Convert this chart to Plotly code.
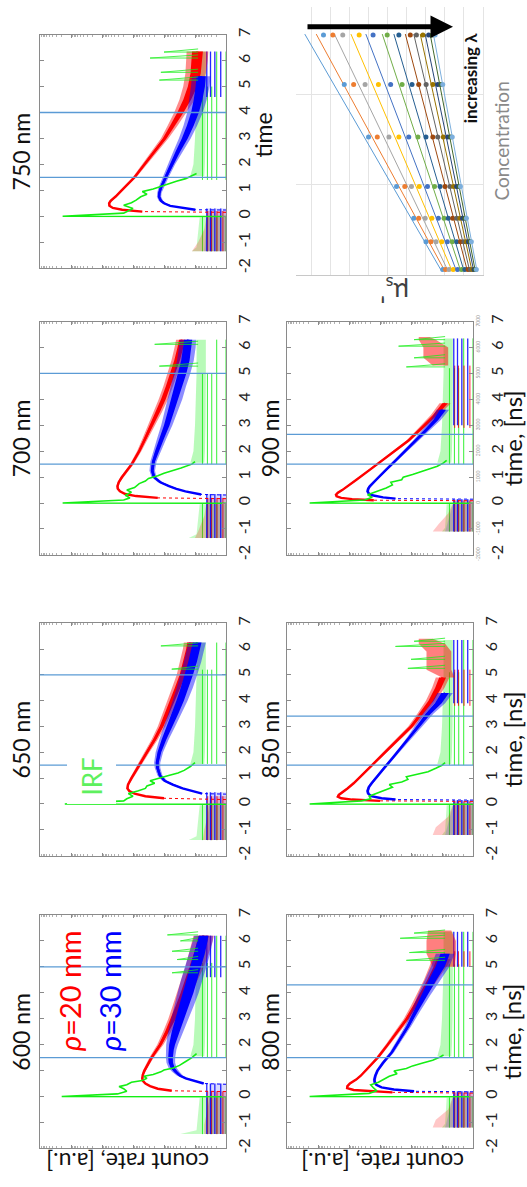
import plotly.graph_objects as go

W, H = 527, 1187
FONT = "Lato, 'Open Sans', sans-serif"

# ---------------- data: time-resolved curves (t in ns, L = log10 count) ----------------
PANELS = ["600 nm", "650 nm", "700 nm", "750 nm", "800 nm", "850 nm", "900 nm"]
TIME_TICKS = [-2, -1, 0, 1, 2, 3, 4, 5, 6, 7]
GATES = [[1.5, 5.0], [1.5, 5.0], [1.5, 5.0], [1.5, 4.0], [1.5, 4.3], [1.5, 3.4], [1.5, 2.65]]

RED_RISE = [0.19, 0.17, 0.17, 0.15, 0.13, 0.1, 0.09]
RED_T = [
    [0.22, 0.3, 0.4, 0.5, 0.6, 0.7, 0.85, 1.0, 1.5, 2.0, 2.5, 3.0, 3.5, 4.0, 4.5, 5.0, 5.5, 6.0, 6.2],
    [0.22, 0.3, 0.4, 0.5, 0.6, 0.75, 1.0, 1.5, 2.0, 2.5, 3.0, 3.5, 4.0, 4.5, 5.0, 5.5, 6.0, 6.25],
    [0.2, 0.27, 0.35, 0.45, 0.55, 0.65, 0.8, 1.0, 1.5, 2.0, 2.5, 3.0, 3.5, 4.0, 4.5, 5.0, 5.5, 6.0, 6.3],
    [0.18, 0.25, 0.32, 0.4, 0.5, 0.6, 0.76, 1.0, 1.5, 2.0, 2.5, 3.0, 3.5, 4.0, 4.5, 5.0, 5.5, 6.0, 6.35],
    [0.16, 0.2, 0.25, 0.32, 0.4, 0.5, 0.65, 0.8, 1.0, 1.5, 2.0, 2.5, 3.0, 3.5, 4.0, 4.5, 5.0, 5.3],
    [0.12, 0.17, 0.22, 0.28, 0.35, 0.45, 0.6, 0.8, 1.0, 1.5, 2.0, 2.5, 3.0, 3.5, 4.0, 4.5, 4.9],
    [0.11, 0.15, 0.2, 0.26, 0.32, 0.4, 0.5, 0.7, 0.9, 1.3, 1.7, 2.0, 2.4, 2.9, 3.4, 3.85],
]
RED_C = [
    [1.75, 2.2, 2.45, 2.6, 2.68, 2.7, 2.68, 2.63, 2.4, 2.12, 1.9, 1.7, 1.52, 1.34, 1.18, 1.01, 0.88, 0.76, 0.72],
    [2.0, 2.6, 2.95, 3.12, 3.18, 3.16, 3.05, 2.8, 2.55, 2.3, 2.08, 1.9, 1.72, 1.56, 1.4, 1.28, 1.18, 1.15],
    [2.2, 2.9, 3.25, 3.42, 3.49, 3.5, 3.46, 3.36, 3.04, 2.8, 2.6, 2.4, 2.2, 2.02, 1.86, 1.72, 1.58, 1.47, 1.42],
    [2.7, 3.35, 3.65, 3.76, 3.77, 3.72, 3.56, 3.37, 2.95, 2.63, 2.3, 1.98, 1.72, 1.47, 1.25, 1.08, 0.98, 0.94, 0.92],
    [2.6, 3.2, 3.85, 4.06, 4.05, 3.97, 3.77, 3.62, 3.46, 3.07, 2.75, 2.44, 2.13, 1.87, 1.62, 1.36, 1.13, 1.02],
    [3.0, 3.9, 4.25, 4.36, 4.33, 4.2, 4.05, 3.85, 3.68, 3.26, 2.85, 2.42, 1.99, 1.66, 1.35, 1.12, 0.98],
    [3.2, 3.9, 4.25, 4.4, 4.42, 4.36, 4.22, 3.98, 3.76, 3.31, 2.87, 2.54, 2.09, 1.65, 1.22, 0.9],
]
RED_W = [
    [0.04, 0.04, 0.04, 0.04, 0.04, 0.04, 0.04, 0.05, 0.07, 0.1, 0.13, 0.16, 0.2, 0.24, 0.27, 0.3, 0.32, 0.33, 0.33],
    [0.04, 0.04, 0.04, 0.04, 0.04, 0.04, 0.05, 0.06, 0.08, 0.1, 0.12, 0.14, 0.16, 0.18, 0.19, 0.2, 0.21, 0.21],
    [0.04, 0.04, 0.04, 0.04, 0.04, 0.04, 0.04, 0.05, 0.06, 0.07, 0.09, 0.11, 0.13, 0.15, 0.16, 0.17, 0.18, 0.19, 0.19],
    [0.04, 0.04, 0.04, 0.04, 0.04, 0.04, 0.04, 0.05, 0.06, 0.07, 0.09, 0.12, 0.16, 0.2, 0.25, 0.3, 0.33, 0.35, 0.35],
    [0.04, 0.04, 0.04, 0.04, 0.04, 0.04, 0.04, 0.04, 0.05, 0.06, 0.07, 0.08, 0.1, 0.13, 0.17, 0.22, 0.28, 0.3],
    [0.04, 0.04, 0.04, 0.04, 0.04, 0.04, 0.04, 0.04, 0.04, 0.05, 0.06, 0.08, 0.1, 0.13, 0.17, 0.2, 0.22],
    [0.04, 0.04, 0.04, 0.04, 0.04, 0.04, 0.04, 0.04, 0.04, 0.05, 0.05, 0.06, 0.07, 0.1, 0.14, 0.18],
]

BLUE_RISE = [0.47, 0.38, 0.31, 0.24, 0.18, 0.15, 0.15]
BLUE_T = [
    [0.5, 0.6, 0.7, 0.8, 0.95, 1.1, 1.3, 1.5, 1.8, 2.0, 2.5, 3.0, 3.5, 4.0, 4.5, 5.0, 5.5, 6.0, 6.2],
    [0.4, 0.5, 0.6, 0.75, 0.9, 1.1, 1.4, 1.6, 2.0, 2.5, 3.0, 3.5, 4.0, 4.5, 5.0, 5.5, 6.0, 6.25],
    [0.33, 0.45, 0.55, 0.65, 0.8, 1.0, 1.25, 1.6, 2.0, 2.5, 3.0, 3.5, 4.0, 4.5, 5.0, 5.5, 6.0, 6.3],
    [0.25, 0.32, 0.4, 0.5, 0.6, 0.75, 0.9, 1.1, 1.5, 2.0, 2.5, 3.0, 3.5, 4.0, 4.5, 5.0, 5.4],
    [0.2, 0.27, 0.35, 0.45, 0.55, 0.65, 0.8, 1.0, 1.3, 1.7, 2.2, 2.7, 3.3, 3.9, 4.5, 5.0, 5.5],
    [0.17, 0.22, 0.3, 0.4, 0.5, 0.65, 0.8, 1.0, 1.4, 1.8, 2.2, 2.6, 3.0, 3.5, 3.9, 4.3],
    [0.17, 0.22, 0.3, 0.38, 0.45, 0.55, 0.65, 0.9, 1.3, 1.65, 2.05, 2.4, 2.8, 3.2, 3.6],
]
BLUE_C = [
    [0.72, 1.05, 1.3, 1.48, 1.62, 1.72, 1.78, 1.79, 1.77, 1.74, 1.63, 1.49, 1.36, 1.22, 1.1, 0.98, 0.86, 0.76, 0.72],
    [0.77, 1.1, 1.4, 1.72, 1.98, 2.13, 2.21, 2.22, 2.15, 2.0, 1.82, 1.64, 1.48, 1.33, 1.2, 1.08, 0.98, 0.93],
    [0.8, 1.31, 1.6, 1.84, 2.12, 2.32, 2.38, 2.34, 2.23, 2.07, 1.91, 1.78, 1.65, 1.54, 1.41, 1.31, 1.25, 1.22],
    [0.99, 1.45, 1.8, 2.0, 2.1, 2.16, 2.15, 2.1, 1.95, 1.76, 1.55, 1.33, 1.15, 1.0, 0.9, 0.83, 0.8],
    [1.9, 2.55, 2.95, 3.12, 3.17, 3.18, 3.15, 3.08, 2.9, 2.62, 2.36, 2.1, 1.84, 1.58, 1.3, 1.06, 0.9],
    [2.5, 2.95, 3.28, 3.38, 3.4, 3.36, 3.27, 3.14, 2.86, 2.58, 2.3, 2.02, 1.77, 1.44, 1.12, 0.9],
    [2.5, 2.9, 3.25, 3.37, 3.4, 3.38, 3.33, 3.13, 2.79, 2.49, 2.16, 1.85, 1.52, 1.2, 0.97],
]
BLUE_W = [
    [0.05, 0.07, 0.08, 0.1, 0.12, 0.13, 0.14, 0.15, 0.17, 0.19, 0.24, 0.28, 0.32, 0.34, 0.35, 0.35, 0.35, 0.33, 0.3],
    [0.05, 0.06, 0.07, 0.08, 0.08, 0.08, 0.09, 0.1, 0.12, 0.15, 0.18, 0.21, 0.24, 0.26, 0.27, 0.28, 0.28, 0.28],
    [0.05, 0.06, 0.07, 0.07, 0.08, 0.08, 0.09, 0.1, 0.12, 0.15, 0.18, 0.21, 0.24, 0.25, 0.26, 0.27, 0.27, 0.26],
    [0.05, 0.06, 0.06, 0.07, 0.07, 0.07, 0.07, 0.08, 0.1, 0.12, 0.15, 0.19, 0.22, 0.25, 0.28, 0.3, 0.3],
    [0.05, 0.05, 0.05, 0.05, 0.05, 0.05, 0.05, 0.05, 0.06, 0.07, 0.08, 0.1, 0.14, 0.2, 0.25, 0.3, 0.3],
    [0.05, 0.05, 0.05, 0.05, 0.05, 0.05, 0.05, 0.05, 0.05, 0.06, 0.07, 0.09, 0.12, 0.17, 0.22, 0.25],
    [0.05, 0.05, 0.05, 0.05, 0.05, 0.05, 0.05, 0.05, 0.05, 0.06, 0.07, 0.09, 0.12, 0.16, 0.2],
]

# IRF (green)
GREEN_T = [
    [-0.01, 0.0, 0.1, 0.2, 0.3, 0.38, 0.45, 0.55, 0.62, 0.7, 0.78, 0.85, 0.95, 1.02, 1.1, 1.2, 1.35, 1.5, 1.65],
    [-0.01, 0.0, 0.12, 0.2, 0.3, 0.4, 0.5, 0.6, 0.7, 0.8, 0.9, 1.0, 1.1, 1.2, 1.3, 1.45, 1.6],
    [-0.01, 0.0, 0.12, 0.2, 0.3, 0.42, 0.5, 0.6, 0.75, 0.85, 0.95, 1.05, 1.15, 1.25, 1.35, 1.5, 1.6],
    [-0.01, 0.0, 0.12, 0.2, 0.3, 0.42, 0.52, 0.62, 0.75, 0.85, 0.95, 1.05, 1.15, 1.25, 1.35, 1.45, 1.55, 1.65],
    [-0.01, 0.0, 0.12, 0.22, 0.32, 0.45, 0.55, 0.68, 0.78, 0.88, 0.98, 1.08, 1.18, 1.28, 1.4, 1.5, 1.6],
    [-0.01, 0.0, 0.12, 0.2, 0.3, 0.42, 0.55, 0.65, 0.75, 0.85, 0.95, 1.05, 1.15, 1.25, 1.38, 1.5, 1.6],
    [-0.01, 0.0, 0.12, 0.22, 0.32, 0.45, 0.58, 0.7, 0.8, 0.9, 1.0, 1.1, 1.2, 1.3, 1.42, 1.55, 1.65],
]
GREEN_L = [
    [0.0, 5.3, 3.5, 3.2, 3.3, 3.45, 3.2, 3.05, 2.7, 2.55, 2.65, 2.35, 2.1, 2.0, 1.7, 1.5, 1.3, 1.1, 0.95],
    [0.0, 5.2, 3.3, 3.2, 3.0, 3.15, 2.85, 2.6, 2.55, 2.3, 2.45, 2.1, 1.85, 1.55, 1.35, 1.15, 1.0],
    [0.0, 5.27, 3.3, 3.1, 3.25, 3.05, 3.2, 2.95, 2.8, 2.6, 2.5, 2.2, 2.0, 1.7, 1.45, 1.1, 1.0],
    [0.0, 5.27, 3.3, 3.15, 3.0, 3.3, 3.05, 2.9, 2.75, 2.55, 2.7, 2.35, 2.1, 1.9, 1.6, 1.3, 1.1, 0.95],
    [0.0, 5.27, 3.35, 3.1, 3.2, 3.3, 3.05, 2.85, 2.7, 2.45, 2.55, 2.15, 1.95, 1.65, 1.3, 1.1, 0.95],
    [0.0, 5.27, 3.6, 3.3, 3.35, 3.1, 2.8, 2.6, 2.7, 2.3, 2.1, 2.15, 1.8, 1.45, 1.2, 1.0, 0.9],
    [0.0, 5.27, 3.5, 3.25, 3.4, 3.1, 2.8, 2.6, 2.65, 2.3, 2.25, 1.95, 1.7, 1.45, 1.15, 0.95, 0.85],
]
SPIKE_T = [
    [6.23, 6.0, 5.6, 5.28, 4.77],
    [6.12, 5.22],
    [6.12, 5.28],
    [6.33, 6.1, 5.55, 5.25],
    [6.3, 6.1, 5.55, 5.25],
    [6.3, 6.1, 5.6, 5.25],
    [6.3, 6.05, 5.6, 5.25],
]
SPIKE_L = [
    [1.89, 1.47, 1.74, 1.58, 1.74],
    [2.1, 1.75],
    [2.3, 2.15],
    [2.0, 2.45, 2.1, 2.15],
    [1.9, 2.35, 2.05, 2.15],
    [1.9, 2.5, 2.0, 2.1],
    [1.9, 2.4, 1.9, 2.15],
]
GREEN_CLOUD_T = [1.55, 2.0, 3.0, 4.0, 5.0, 6.2]
GREEN_CLOUD_HI = [1.15, 1.05, 1.0, 0.98, 0.95, 0.95]
GREEN_CLOUD_LO = [0.7, 0.68, 0.66, 0.65, 0.65, 0.65]
GREEN_PRE_T = [[-1.45, -1.3, -0.05], [-1.4, -1.25, -0.05], [-1.35, -1.2, -0.05], [-1.35, -1.2, -0.05],
               [-1.2, -1.05, -0.05], [-1.2, -1.05, -0.05], [-1.1, -0.95, -0.05]]
GREEN_PRE_HI = [[1.47, 0.95, 0.85], [1.2, 0.95, 0.85], [1.2, 0.95, 0.85], [1.1, 0.95, 0.85],
                [1.0, 0.9, 0.85], [1.0, 0.9, 0.85], [1.0, 0.9, 0.85]]
RED_PRE_T = [[-1.45, -1.1, -0.5, 0.2], [-1.4, -1.0, -0.5, 0.3], [-1.35, -1.1, -0.5, 0.2], [-1.35, -1.0, -0.5, 0.2],
             [-1.2, -0.9, -0.5, 0.15], [-1.2, -0.9, -0.5, 0.1], [-1.1, -0.8, -0.4, 0.1]]
RED_PRE_HI = [[0.7, 0.7, 0.6, 0.5], [0.75, 0.7, 0.6, 0.5], [1.0, 0.9, 0.7, 0.6], [1.1, 0.9, 0.7, 0.6],
              [1.3, 1.2, 0.8, 0.6], [1.3, 1.2, 0.8, 0.6], [1.3, 1.1, 0.8, 0.6]]
BLUE_PRE_T = [[-1.45, 0.5], [-1.4, 0.45], [-1.35, 0.35], [-1.35, 0.3], [-1.2, 0.2], [-1.2, 0.15], [-1.1, 0.15]]
BLUE_PRE_HI = [[0.6, 0.55], [0.6, 0.55], [0.65, 0.6], [0.7, 0.6], [0.9, 0.6], [0.9, 0.6], [0.9, 0.6]]
RED_POST_T = [[], [], [], [], [5.0, 5.5, 6.0, 6.4], [4.9, 5.2, 5.9, 6.2, 6.4], [5.3, 5.6, 6.0, 6.3, 6.4]]
RED_POST_LO = [[], [], [], [], [0.6, 0.55, 0.55, 0.7], [0.6, 0.7, 0.7, 0.9, 1.3], [0.8, 0.8, 0.8, 1.2, 1.4]]
RED_POST_HI = [[], [], [], [], [1.3, 1.5, 1.5, 1.45], [1.0, 1.5, 1.5, 1.75, 1.75], [1.3, 1.6, 1.6, 1.75, 1.75]]

# discrete low-count levels (log10 count) and their time spans
GREEN_LEVELS = [0.0, 0.3, 0.46, 0.6, 0.76]
RED_LEVELS = [0.1, 0.29, 0.47, 0.59]
BLUE_LEVELS = [0.17, 0.36, 0.5, 0.62]
COMB_T0 = [-1.45, -1.4, -1.35, -1.35, -1.2, -1.2, -1.1]
RED_PRE_T1 = [0.2, 0.3, 0.2, 0.2, 0.15, 0.1, 0.1]
BLUE_PRE_T1 = [0.5, 0.45, 0.35, 0.3, 0.2, 0.15, 0.15]
GREEN_POST_T0 = [1.5, 1.55, 1.5, 1.4, 1.5, 1.5, 1.5]
GREEN_MID_T1 = [5.15, 5.2, 5.0, 5.0, 5.1, 5.1, 5.2]
END_T = [6.2, 6.25, 6.3, 6.35, 6.35, 6.35, 6.35]
BLUE_POST_T0 = [4.6, None, None, 4.6, 5.0, 3.9, 3.0]
RED_POST_T0 = [None, None, None, None, 5.0, 3.8, 2.9]
RED_POST_T1 = [None, None, None, None, 5.6, 5.2, 5.3]
CHANNEL_TICKS = [-2000, -1000, 0, 1000, 2000, 3000, 4000, 5000, 6000, 7000]

# ---------------- data: scattering vs concentration ----------------
CONC = [0.06, 0.37, 0.63, 0.98, 1.53, 2.11, 2.66]
MUS = [
    [2.11, 2.99, 3.63, 4.53, 6.0, 7.27, 8.36],
    [1.96, 2.73, 3.37, 4.10, 5.54, 6.78, 7.87],
    [1.78, 2.46, 3.03, 3.75, 4.93, 6.18, 7.35],
    [1.56, 2.16, 2.68, 3.34, 4.41, 5.48, 6.49],
    [1.33, 1.87, 2.34, 2.91, 3.89, 4.84, 5.76],
    [1.12, 1.61, 2.04, 2.54, 3.41, 4.24, 5.02],
    [0.95, 1.38, 1.82, 2.25, 2.99, 3.72, 4.41],
    [0.78, 1.18, 1.59, 1.99, 2.63, 3.37, 3.81],
    [0.66, 1.00, 1.38, 1.73, 2.37, 2.98, 3.49],
    [0.55, 0.87, 1.21, 1.54, 2.08, 2.63, 3.15],
    [0.47, 0.76, 1.07, 1.38, 1.85, 2.37, 2.85],
    [0.40, 0.67, 0.95, 1.26, 1.70, 2.21, 2.65],
    [0.35, 0.61, 0.87, 1.18, 1.61, 2.11, 2.51],
]
FIT_C = [0.04, 2.67]
FIT_LO = [2.16, 1.99, 1.82, 1.61, 1.38, 1.16, 0.99, 0.81, 0.69, 0.57, 0.48, 0.40, 0.31]
FIT_HI = [9.34, 8.74, 7.79, 6.92, 6.14, 5.28, 4.67, 4.07, 3.63, 3.29, 3.03, 2.77, 2.60]
SERIES_COLORS = ["#5B9BD5", "#ED7D31", "#A5A5A5", "#FFC000", "#4472C4", "#70AD47", "#255E91",
                 "#9E480E", "#636363", "#997300", "#264478", "#43682B", "#7CAFDD"]

# ---------------- layout geometry (pixels) ----------------
COLS = [(40, 226), (287, 473)]
ROWS = [(28, 264), (318, 554), (623, 858), (918, 1154)]
PANEL_POS = [(0, 3), (0, 2), (0, 1), (0, 0), (1, 3), (1, 2), (1, 1)]
CONC_BOX = (296, 0, 483, 271)

RED, BLUE, GREEN = "#ff0000", "#0000ff", "#14ee14"
GATE_COLOR = "#5b9bd5"
FRAME = "#8a8a8a"

fig = go.Figure()
layout = dict(width=W, height=H, margin=dict(l=0, r=0, t=0, b=0), paper_bgcolor="white",
              plot_bgcolor="white", showlegend=False, font=dict(family=FONT, color="#111"))
annotations, shapes = [], []


def names(n):
    if n == 1:
        return "x", "y", "xaxis", "yaxis"
    return f"x{n}", f"y{n}", f"xaxis{n}", f"yaxis{n}"


def add(n, ya=None, **kw):
    xa, y_, _, _ = names(n)
    fig.add_trace(go.Scatter(xaxis=xa, yaxis=ya or y_, hoverinfo="skip", showlegend=False, **kw))


def cnt(L):
    return 10 ** L


def poly(n, t, lo, hi, color, opacity):
    xs = [cnt(v) for v in hi] + [cnt(v) for v in lo[::-1]]
    ys = list(t) + list(t[::-1])
    add(n, x=xs, y=ys, mode="lines", fill="toself", fillcolor=color, line=dict(width=0), opacity=opacity)


def band(n, t, c, w, color):
    for k, op in ((1.0, 0.45), (0.5, 1.0)):
        lo = [ci - k * wi for ci, wi in zip(c, w)]
        hi = [ci + k * wi for ci, wi in zip(c, w)]
        poly(n, t, lo, hi, color, op)
    add(n, x=[cnt(v) for v in c], y=t, mode="lines", line=dict(color=color, width=2.4))


def comb(n, segs, color, width, opacity=0.85):
    xs, ys = [], []
    for L, t0, t1 in segs:
        xs += [cnt(L), cnt(L), None]
        ys += [t0, t1, None]
    add(n, x=xs, y=ys, mode="lines", line=dict(color=color, width=width), opacity=opacity)


def ann(text, x, y, size, color="#111", angle=-90, **kw):
    annotations.append(dict(text=text, x=x / W, y=1 - y / H, xref="paper", yref="paper", showarrow=False,
                            textangle=angle, font=dict(size=size, color=color, family=FONT),
                            xanchor="center", yanchor="middle", **kw))


for i, name in enumerate(PANELS):
    n = i + 1
    col, row = PANEL_POS[i]
    x0, x1 = COLS[col]
    y0, y1 = ROWS[row]
    xa, ya, xk, yk = names(n)
    layout[xk] = dict(domain=[x0 / W, x1 / W], anchor=ya, type="log", range=[6, 0], showticklabels=False,
                      ticks="inside", ticklen=3, tickcolor=FRAME, dtick=1, mirror="ticks", showline=True,
                      linecolor=FRAME, linewidth=1, showgrid=False, zeroline=False,
                      minor=dict(ticks="inside", ticklen=2, tickcolor="#b0b0b0", dtick="D1"))
    layout[yk] = dict(domain=[1 - y1 / H, 1 - y0 / H], anchor=xa, range=[-2, 7], tickvals=TIME_TICKS,
                      ticktext=[str(v) for v in TIME_TICKS], side="right", tickangle=-90,
                      tickfont=dict(size=16, color="#222"), ticks="inside", ticklen=4, tickcolor=FRAME,
                      mirror="ticks", showline=True, linecolor=FRAME, linewidth=1, showgrid=False,
                      zeroline=False, ticklabelstandoff=4)

    # low-count clouds and discrete count levels
    poly(n, GREEN_PRE_T[i], [0.0] * len(GREEN_PRE_T[i]), GREEN_PRE_HI[i], GREEN, 0.25)
    ct = GREEN_CLOUD_T[:-1] + [END_T[i]]
    poly(n, ct, GREEN_CLOUD_LO, GREEN_CLOUD_HI, GREEN, 0.3)
    gsegs = [(L, COMB_T0[i], -0.03) for L in GREEN_LEVELS]
    gsegs += [(L, GREEN_POST_T0[i], END_T[i] if L < 0.4 else GREEN_MID_T1[i]) for L in GREEN_LEVELS]
    comb(n, gsegs, GREEN, 1.0)
    poly(n, RED_PRE_T[i], [0.0] * len(RED_PRE_T[i]), RED_PRE_HI[i], RED, 0.22)
    rsegs = [(L, COMB_T0[i], RED_PRE_T1[i]) for L in RED_LEVELS]
    if RED_POST_T0[i] is not None:
        rsegs += [(L, RED_POST_T0[i], RED_POST_T1[i]) for L in RED_LEVELS]
    comb(n, rsegs, RED, 1.0)
    poly(n, BLUE_PRE_T[i], [0.0] * len(BLUE_PRE_T[i]), BLUE_PRE_HI[i], BLUE, 0.15)
    bsegs = [(L, COMB_T0[i], BLUE_PRE_T1[i]) for L in BLUE_LEVELS]
    if BLUE_POST_T0[i] is not None:
        bsegs += [(L, BLUE_POST_T0[i], END_T[i]) for L in BLUE_LEVELS]
    comb(n, bsegs, BLUE, 1.3)

    # main curves
    if RED_POST_T[i]:
        poly(n, RED_POST_T[i], RED_POST_LO[i], RED_POST_HI[i], RED, 0.5)
    band(n, RED_T[i], RED_C[i], RED_W[i], RED)
    add(n, x=[cnt(0.0), cnt(RED_C[i][0])], y=[RED_RISE[i], RED_T[i][0]], mode="lines",
        line=dict(color=RED, width=1, dash="dot"))
    band(n, BLUE_T[i], BLUE_C[i], BLUE_W[i], BLUE)
    add(n, x=[cnt(0.0), cnt(BLUE_C[i][0])], y=[BLUE_RISE[i], BLUE_T[i][0]], mode="lines",
        line=dict(color=BLUE, width=1, dash="dot"))
    add(n, x=[cnt(v) for v in GREEN_L[i]], y=GREEN_T[i], mode="lines", line=dict(color=GREEN, width=1.6))
    sx, sy = [], []
    for ts, lp in zip(SPIKE_T[i], SPIKE_L[i]):
        sx += [cnt(0.9), cnt(lp), cnt(0.9), None]
        sy += [ts, ts, ts + 0.12, None]
    add(n, x=sx, y=sy, mode="lines", line=dict(color=GREEN, width=0.9), opacity=0.85)

    for g in GATES[i]:
        shapes.append(dict(type="line", xref=f"{xa} domain", yref=ya, x0=0, x1=1, y0=g, y1=g,
                           line=dict(color=GATE_COLOR, width=1.3), layer="above"))

    tx = 21 if col == 0 else 270
    ann(name, tx, (y0 + y1) / 2, 23)

# channel-number axis of the 900 nm panel
layout["yaxis9"] = dict(overlaying="y7", anchor="x7", side="right", range=[-2000, 7000], tickvals=CHANNEL_TICKS,
                        ticktext=[str(v) for v in CHANNEL_TICKS], tickangle=-90,
                        tickfont=dict(size=5, color="#999"), showline=False, showgrid=False, zeroline=False,
                        ticks="", ticklabelstandoff=1)
add(7, ya="y9", x=[cnt(3.0)], y=[CHANNEL_TICKS[0]], mode="markers", marker=dict(opacity=0))
layout["yaxis7"]["ticklabelstandoff"] = 10

# ---------------- concentration panel ----------------
cx0, cy0, cx1, cy1 = CONC_BOX
layout["xaxis8"] = dict(domain=[cx0 / W, cx1 / W], anchor="y8", range=[9.8, 0], dtick=1, showgrid=True,
                        gridcolor="#e4e4e4", showticklabels=False, ticks="", zeroline=False, showline=True,
                        linecolor="#c8c8c8")
layout["yaxis8"] = dict(domain=[1 - cy1 / H, 1 - cy0 / H], anchor="x8", range=[0, 2.97], dtick=1, showgrid=True,
                        gridcolor="#e4e4e4", showticklabels=False, ticks="", zeroline=False, side="right",
                        showline=True, linecolor="#e4e4e4")
for k in range(len(MUS)):
    add(8, x=[FIT_LO[k], FIT_HI[k]], y=FIT_C, mode="lines", line=dict(color=SERIES_COLORS[k], width=1))
for k in range(len(MUS)):
    add(8, x=MUS[k], y=CONC, mode="markers", marker=dict(color=SERIES_COLORS[k], size=5))

# ---------------- text ----------------
ann("time", 263, 130, 23)
for (col, row) in [(1, 1), (1, 2), (1, 3)]:
    ann("time, [ns]", 512, sum(ROWS[row]) / 2, 24)
ann("count rate, [a.u.]", 128, 1168, 23, angle=180)
ann("count rate, [a.u.]", 383, 1168, 23, angle=180)
ann("<i>ρ</i>=20 mm", 69, 995, 29, color=RED)
ann("<i>ρ</i>=30 mm", 109, 995, 29, color=BLUE)
ann("IRF", 92, 778, 26, color="#5ef05e", bgcolor="white", borderpad=8)
ann("Concentration", 502, 136, 19, color="#8a8a8a")
ann("<b>increasing λ</b>", 470, 72, 17)
ann("μ<sub>s</sub>'", 395, 287, 26, color="#404040", angle=180)
annotations.append(dict(text="", x=453 / W, y=1 - 20 / H, xref="paper", yref="paper", ax=-147, ay=0,
                        showarrow=True, arrowhead=2, arrowsize=0.9, arrowwidth=5, arrowcolor="black"))

layout["annotations"] = annotations
layout["shapes"] = shapes
fig.update_layout(**layout)
fig.write_html("out.html")
